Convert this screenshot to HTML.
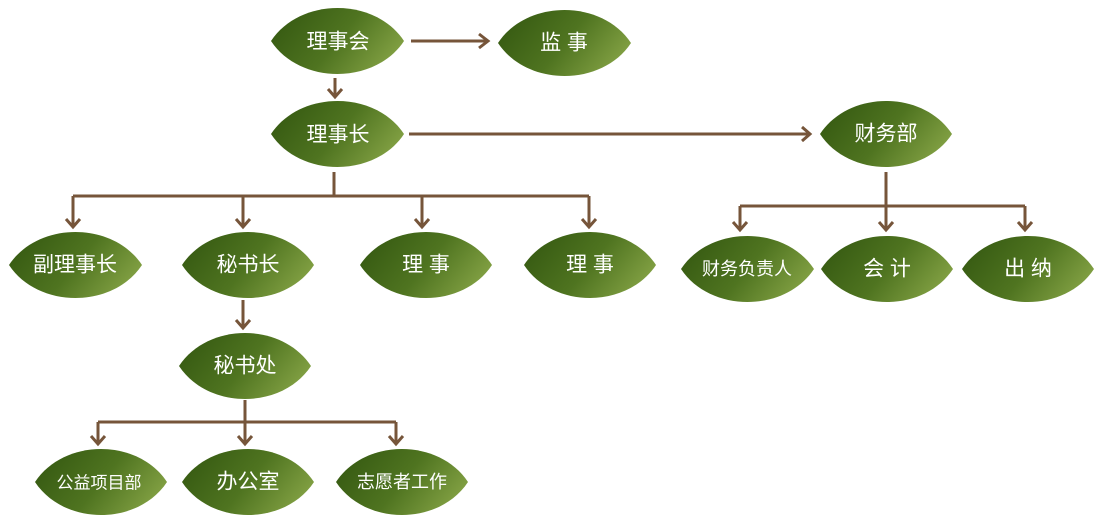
<!DOCTYPE html>
<html><head><meta charset="utf-8"><style>
html,body{margin:0;padding:0;background:#fff;width:1100px;height:531px;overflow:hidden}
text{font-family:"Liberation Sans","Noto Sans CJK SC",sans-serif;fill:#fff;font-size:21px;text-anchor:middle;dominant-baseline:central}
</style></head><body>
<svg width="1100" height="531" viewBox="0 0 1100 531" xmlns="http://www.w3.org/2000/svg">
<defs>
<linearGradient id="g" x1="0" y1="0.3" x2="1" y2="0.7">
<stop offset="0" stop-color="#365a12"/>
<stop offset="0.5" stop-color="#4f7420"/>
<stop offset="1" stop-color="#86a446"/>
</linearGradient>
</defs>
<g stroke="#76553a" stroke-width="3" fill="none">
<path d="M411 41H488M479 34L488 41L479 48"/>
<path d="M335 78V97M328 89L335 97L342 89"/>
<path d="M409 134H810M802 127L810 134L802 141"/>
<path d="M334 172V196M73 196H589M73 196V227M243 196V227M422 196V227M589 196V227"/>
<path d="M66 219L73 227L80 219M236 219L243 227L250 219M415 219L422 227L429 219M582 219L589 227L596 219"/>
<path d="M886 172V230M740 206H1025M740 206V230M1025 206V230"/>
<path d="M733 222L740 230L747 222M879 222L886 230L893 222M1018 222L1025 230L1032 222"/>
<path d="M243 300V328M236 320L243 328L250 320"/>
<path d="M245 400V444M98 422H396M98 422V444M396 422V444"/>
<path d="M91 436L98 444L105 436M238 436L245 444L252 436M389 436L396 444L403 436"/>
</g>
<g fill="url(#g)">
<path d="M271 41C300 -3 375 -3 404 41C375 85 300 85 271 41Z"/>
<path d="M498 43C527 -1 602 -1 631 43C602 87 527 87 498 43Z"/>
<path d="M271 134C300 90 375 90 404 134C375 178 300 178 271 134Z"/>
<path d="M820 134C849 90 923 90 952 134C923 178 849 178 820 134Z"/>
<path d="M9 265C38 221 113 221 142 265C113 309 38 309 9 265Z"/>
<path d="M182 265C211 221 285 221 314 265C285 309 211 309 182 265Z"/>
<path d="M360 265C389 221 463 221 492 265C463 309 389 309 360 265Z"/>
<path d="M524 265C553 221 627 221 656 265C627 309 553 309 524 265Z"/>
<path d="M681 269C710 225 785 225 814 269C785 313 710 313 681 269Z"/>
<path d="M821 269C850 225 924 225 953 269C924 313 850 313 821 269Z"/>
<path d="M962 269C991 225 1065 225 1094 269C1065 313 991 313 962 269Z"/>
<path d="M179 366C208 322 282 322 311 366C282 410 208 410 179 366Z"/>
<path d="M35 482C64 438 138 438 167 482C138 526 64 526 35 482Z"/>
<path d="M182 482C211 438 285 438 314 482C285 526 211 526 182 482Z"/>
<path d="M336 482C365 438 439 438 468 482C439 526 365 526 336 482Z"/>
</g>
<text x="338" y="42">理事会</text>
<text x="564" y="43">监 事</text>
<text x="338" y="135">理事长</text>
<text x="886" y="134">财务部</text>
<text x="75" y="265">副理事长</text>
<text x="248" y="265">秘书长</text>
<text x="426" y="265">理 事</text>
<text x="590" y="265">理 事</text>
<text x="747" y="269" style="font-size:18px">财务负责人</text>
<text x="887" y="269">会 计</text>
<text x="1028" y="269">出 纳</text>
<text x="245" y="366">秘书处</text>
<text x="99" y="483" style="font-size:17px">公益项目部</text>
<text x="248" y="482">办公室</text>
<text x="402" y="482" style="font-size:18px">志愿者工作</text>
</svg>
</body></html>
